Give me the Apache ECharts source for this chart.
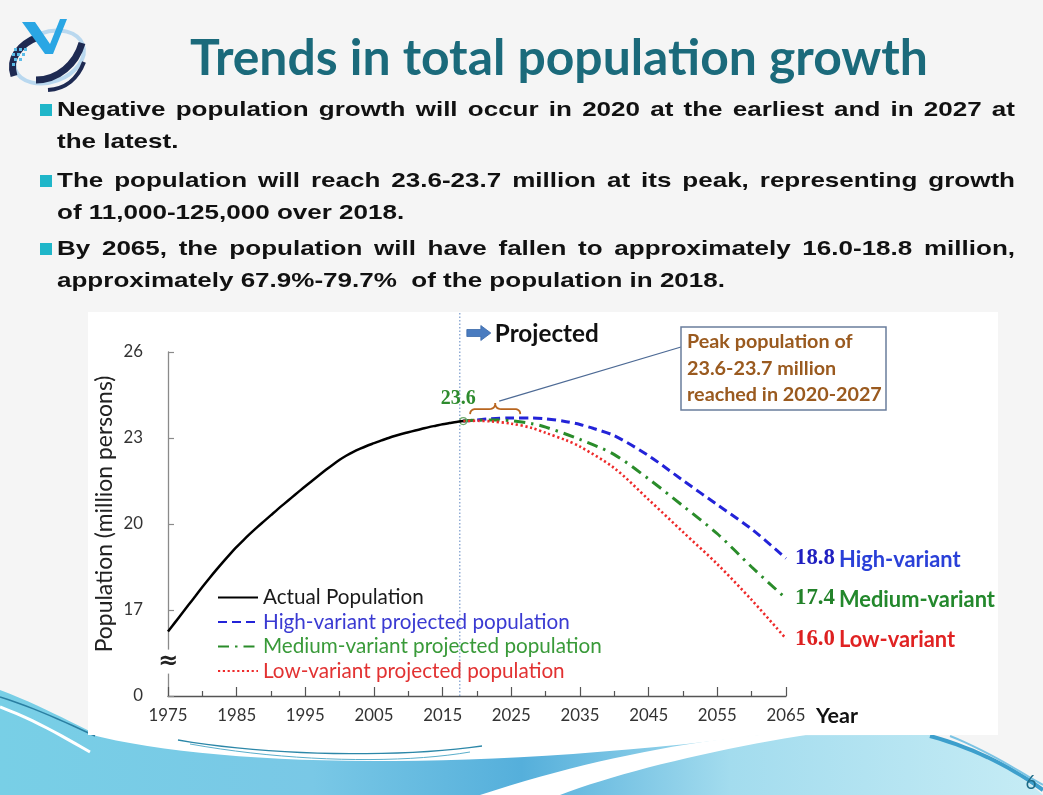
<!DOCTYPE html>
<html>
<head>
<meta charset="utf-8">
<title>Trends in total population growth</title>
<script src="https://cdn.jsdelivr.net/npm/echarts@6.0.0/dist/echarts.min.js"></script>
<style>
html,body{margin:0;padding:0;background:#f5f5f5;}
#chart{width:1043px;height:795px;}
</style>
</head>
<body>
<div id="chart"></div>
<script>
// ================= DATA =================
const actualYears = [1975,1976,1977,1978,1979,1980,1981,1982,1983,1984,1985,1986,1987,1988,1989,1990,1991,1992,1993,1994,1995,1996,1997,1998,1999,2000,2001,2002,2003,2004,2005,2006,2007,2008,2009,2010,2011,2012,2013,2014,2015,2016,2017,2018];
const actualValues = [16.25,16.56,16.87,17.18,17.49,17.8,18.1,18.39,18.67,18.94,19.2,19.44,19.67,19.89,20.1,20.31,20.52,20.72,20.92,21.12,21.32,21.51,21.7,21.89,22.07,22.24,22.39,22.52,22.63,22.73,22.82,22.91,22.99,23.07,23.14,23.2,23.26,23.32,23.38,23.43,23.48,23.52,23.56,23.59];

const highYears  = [2018,2020,2022,2025,2028,2030,2033,2035,2037,2040,2045,2050,2055,2060,2065];
const highValues = [23.59,23.63,23.67,23.70,23.70,23.67,23.57,23.47,23.33,23.08,22.38,21.52,20.67,19.82,18.8];

const mediumYears  = [2018,2020,2023,2025,2028,2030,2035,2040,2045,2050,2055,2060,2065];
const mediumValues = [23.59,23.62,23.63,23.60,23.50,23.38,22.95,22.42,21.57,20.63,19.66,18.5,17.4];

const lowYears  = [2018,2020,2022,2025,2028,2030,2033,2035,2040,2045,2050,2055,2060,2065];
const lowValues = [23.59,23.60,23.58,23.50,23.35,23.18,22.92,22.70,21.95,20.85,19.72,18.6,17.35,16.0];

const seriesNames = ['Actual Population','High-variant projected population','Medium-variant projected population','Low-variant projected population'];
const endLabelNames = ['High-variant','Medium-variant','Low-variant'];

const yTickValues = [14,17,20,23,26];          // 14 sits at the axis break and is labelled "0"
const yTickLabels = ['0','17','20','23','26'];
const yAxisName = 'Population (million persons)';
const xAxisName = 'Year';

const titleText = 'Trends in total population growth';
const bulletParas = [
  ['Negative population growth will occur in 2020 at the earliest and in 2027 at','the latest.'],
  ['The population will reach 23.6-23.7 million at its peak, representing growth','of 11,000-125,000 over 2018.'],
  ['By 2065, the population will have fallen to approximately 16.0-18.8 million,','approximately 67.9%-79.7%  of the population in 2018.']
];
const calloutLines = ['Peak population of','23.6-23.7 million','reached in 2020-2027'];
const projectedText = 'Projected';
const peakBraceYears = [2019, 2026.3];
const projectionStartYear = 2017.5;
const breakValue = 15.2;
const pageNumber = '6';

// ================= HELPERS =================
const mctx = document.createElement('canvas').getContext('2d');
function tw(text, font){ mctx.font = font; return mctx.measureText(text).width; }
function fit(text, weight, family, width){ return 100 * width / tw(text, weight + ' 100px "' + family + '"'); }
function pairs(xs, ys){ return xs.map((x, i) => [x, ys[i]]); }
function cubic(p0, p1, p2, p3, n){
  const pts = [];
  for (let i = 0; i <= n; i++) {
    const t = i / n, m = 1 - t;
    pts.push([m*m*m*p0[0] + 3*m*m*t*p1[0] + 3*m*t*t*p2[0] + t*t*t*p3[0],
              m*m*m*p0[1] + 3*m*m*t*p1[1] + 3*m*t*t*p2[1] + t*t*t*p3[1]]);
  }
  return pts;
}
function quad(p0, c, p1, n){
  const pts = [];
  for (let i = 0; i <= n; i++) {
    const t = i / n, m = 1 - t;
    pts.push([m*m*p0[0] + 2*m*t*c[0] + t*t*p1[0], m*m*p0[1] + 2*m*t*c[1] + t*t*p1[1]]);
  }
  return pts;
}
function txt(text, x, y, o){
  return {
    type: 'text', x: x, y: y, z: o.z || 30, silent: true, scaleX: o.sx || 1, rotation: o.rot || 0,
    style: {
      text: text, x: 0, y: 0, fill: o.color || '#000',
      fontSize: o.size, fontFamily: o.family || 'Lato', fontWeight: o.weight || 'normal',
      align: o.align || 'left', textAlign: o.align || 'left',
      verticalAlign: o.va || 'middle', textVerticalAlign: o.va || 'middle',
      backgroundColor: o.bg, padding: o.pad
    }
  };
}

// ================= STYLE / FONT SIZES =================
const tickFont = fit('2065', 'normal', 'Lato', 39);
const yNameFont = fit(yAxisName, 'normal', 'Lato', 277);
const legendFont = fit(seriesNames[2], 'normal', 'Lato', 339);
const endNameFont = fit(endLabelNames[1], 'bold', 'Lato', 156);
const endValFont = fit('18.8', 'bold', 'Liberation Serif', 40);

const lineColors = ['#000000', '#2323d8', '#2a8c2a', '#ee2a2a'];
const legendTextColors = ['#1a1a1a', '#3a3ad2', '#399a39', '#e23232'];
const endValColors = ['#2020c0', '#23822a', '#dd2020'];
const endNameColors = ['#2a40d8', '#23882c', '#e02222'];
const lineTypes = ['solid', [9, 5], [11, 6, 2.5, 6], [2.2, 2.6]];
const lineWidths = [2.5, 3, 3, 2.6];

function projSeries(k, years, values){
  const i = k + 1;
  return {
    name: seriesNames[i], type: 'line', data: pairs(years, values),
    symbol: 'none', smooth: 0.3, z: 3 + k,
    lineStyle: { color: lineColors[i], width: lineWidths[i], type: lineTypes[i] },
    itemStyle: { color: lineColors[i] },
    endLabel: {
      show: true, distance: 9,
      formatter: p => '{v|' + p.value[1].toFixed(1) + '}{n|' + endLabelNames[k] + '}',
      rich: {
        v: { fontFamily: 'Liberation Serif', fontWeight: 'bold', fontSize: endValFont, color: endValColors[k] },
        n: { fontFamily: 'Lato', fontWeight: 'bold', fontSize: endNameFont, color: endNameColors[k], padding: [3, 0, 0, 4] }
      }
    }
  };
}

const option = {
  animation: false,
  backgroundColor: '#f5f5f5',
  grid: { left: 168, right: 257, top: 352, bottom: 99, containLabel: false, outerBoundsMode: 'none' },
  xAxis: {
    type: 'value', min: 1975, max: 2065, interval: 10,
    axisLine: { show: true, lineStyle: { color: '#555', width: 1.3 } },
    axisTick: { show: true, inside: true, length: 9, lineStyle: { color: '#555', width: 1.2 } },
    minorTick: { show: true, splitNumber: 2, length: 5, lineStyle: { color: '#555', width: 1.2 } },
    axisLabel: { show: true, margin: 11, fontFamily: 'Lato', fontSize: tickFont, color: '#333', formatter: v => String(v) },
    splitLine: { show: false }, minorSplitLine: { show: false }
  },
  yAxis: {
    type: 'value', min: 14, max: 26, interval: 3,
    axisLine: { show: true, lineStyle: { color: '#8a8a8a', width: 1.3 } },
    axisTick: { show: true, inside: true, length: 6, lineStyle: { color: '#8a8a8a', width: 1.2 } },
    axisLabel: { margin: 25, fontFamily: 'Lato', fontSize: tickFont, color: '#333',
      formatter: v => { const i = yTickValues.indexOf(v); return i >= 0 ? yTickLabels[i] : ''; } },
    splitLine: { show: false }
  },
  legend: {
    show: true, orient: 'vertical', left: 212, top: 582,
    itemWidth: 40, itemHeight: 12, itemGap: 3.5, selectedMode: false,
    itemStyle: { color: 'rgba(0,0,0,0)', borderWidth: 0, opacity: 0 },
    textStyle: { fontFamily: 'Lato', fontSize: legendFont, lineHeight: 17 },
    data: seriesNames.map((n, i) => ({ name: n, textStyle: { color: legendTextColors[i] } }))
  },
  series: [
    {
      name: seriesNames[0], type: 'line', data: pairs(actualYears, actualValues),
      symbol: 'none', smooth: 0.3, z: 6,
      lineStyle: { color: lineColors[0], width: lineWidths[0] },
      itemStyle: { color: lineColors[0] },
      markPoint: {
        symbol: 'circle', symbolSize: 7, silent: true,
        itemStyle: { color: 'rgba(255,255,255,0)', borderColor: '#6aa86a', borderWidth: 1.2 },
        label: { show: true, position: 'top', distance: 8, offset: [-5, 0],
          formatter: p => p.value.toFixed(1),
          fontFamily: 'Liberation Serif', fontWeight: 'bold', fontSize: 20, color: '#2e8b2e' },
        data: [{ coord: [actualYears[actualYears.length - 1], actualValues[actualValues.length - 1]], value: actualValues[actualValues.length - 1] }]
      }
    },
    projSeries(0, highYears, highValues),
    projSeries(1, mediumYears, mediumValues),
    projSeries(2, lowYears, lowValues)
  ]
};

const chart = echarts.init(document.getElementById('chart'), null, { renderer: 'canvas', width: 1043, height: 795 });
chart.setOption(option);

// ================= DECORATION / ANNOTATIONS =================
const px = (x, y) => chart.convertToPixel({ gridIndex: 0 }, [x, y]);
const [axX, axY] = px(1975, 14);
const [endX] = px(2065, 14);
const [projX] = px(projectionStartYear, 26);
const [, midY] = px(1975, 20.35);
const g = [];

// bottom waves
const wave = [[0, 690]].concat(
  cubic([0, 690], [40, 705], [70, 722], [100, 736], 12),
  [[930, 735]],
  cubic([930, 735], [975, 748], [1015, 770], [1043, 795], 12),
  [[0, 795]]
);
g.push({ type: 'polygon', z: -5, silent: true, shape: { points: wave },
  style: { fill: new echarts.graphic.LinearGradient(0, 0, 1, 0, [
    { offset: 0, color: '#78cfe6' }, { offset: 0.3, color: '#79c8e6' }, { offset: 0.5, color: '#55afdb' },
    { offset: 0.7, color: '#a3dcee' }, { offset: 1, color: '#c6ecf5' }]) } });
g.push({ type: 'polygon', z: -4, silent: true,
  shape: { points: [[88, 734]].concat(cubic([88, 734], [220, 768], [480, 772], [770, 734], 30)) }, style: { fill: '#ffffff' } });
g.push({ type: 'polygon', z: -4, silent: true,
  shape: { points: cubic([480, 795], [580, 762], [680, 742], [770, 734], 20).concat(cubic([812, 734], [720, 748], [620, 772], [560, 795], 20)) },
  style: { fill: '#ffffff' } });
g.push({ type: 'polyline', z: -3, silent: true, shape: { points: cubic([178, 740], [270, 756], [400, 758], [482, 746], 20) },
  style: { stroke: '#2c87a8', lineWidth: 1.3, fill: null } });
g.push({ type: 'polyline', z: -3, silent: true, shape: { points: cubic([190, 744], [290, 762], [400, 764], [470, 752], 20) },
  style: { stroke: '#5aaecb', lineWidth: 1, fill: null } });
g.push({ type: 'polyline', z: -3, silent: true, shape: { points: cubic([0, 697], [35, 708], [65, 722], [95, 736], 12) },
  style: { stroke: '#2a7fa2', lineWidth: 1.5, fill: null } });
g.push({ type: 'polyline', z: -3, silent: true, shape: { points: cubic([0, 707], [35, 720], [60, 735], [90, 752], 12) },
  style: { stroke: '#ffffff', lineWidth: 3, fill: null } });
g.push({ type: 'polyline', z: -3, silent: true, shape: { points: cubic([930, 736], [980, 750], [1015, 770], [1043, 790], 16) },
  style: { stroke: '#3d9fcc', lineWidth: 4, fill: null } });
g.push({ type: 'polyline', z: -3, silent: true, shape: { points: cubic([950, 736], [990, 752], [1020, 772], [1043, 785], 16) },
  style: { stroke: '#7cc4e4', lineWidth: 2, fill: null } });

// chart picture box
g.push({ type: 'rect', z: -2, silent: true, shape: { x: 88, y: 312, width: 910, height: 423 }, style: { fill: '#ffffff' } });

// y axis title (sits a little above the axis middle, as in the original)
g.push(txt(yAxisName, 105, midY, { size: yNameFont, color: '#222', align: 'center', rot: Math.PI / 2 }));

// projection divider
g.push({ type: 'line', z: 1, silent: true, shape: { x1: projX, y1: 313, x2: projX, y2: axY },
  style: { stroke: '#5b83c0', lineWidth: 1, lineDash: [1.5, 2] } });
const ax0 = projX + 7, ay0 = 333;
g.push({ type: 'polygon', z: 30, silent: true,
  shape: { points: [[ax0, ay0 - 3.5], [ax0 + 14, ay0 - 3.5], [ax0 + 14, ay0 - 7.5], [ax0 + 24, ay0], [ax0 + 14, ay0 + 7.5], [ax0 + 14, ay0 + 3.5], [ax0, ay0 + 3.5]] },
  style: { fill: '#4a7cc0', stroke: '#3a68a8', lineWidth: 0.8 } });
g.push(txt(projectedText, projX + 35, 334, { size: fit(projectedText, 'bold', 'Lato', 104), weight: 'bold', color: '#111' }));

// axis break & axis name
const [, breakY] = px(1975, breakValue);
g.push(txt('\u2248', axX, breakY, { size: 24, weight: 'bold', align: 'center', color: '#222', family: 'DejaVu Sans', bg: '#ffffff', pad: [0, 0, 0, 0] }));
g.push(txt(xAxisName, endX + 30, axY + 20, { size: fit(xAxisName, 'bold', 'Lato', 42), weight: 'bold', color: '#111' }));

// peak brace
const [b1x, by] = px(peakBraceYears[0], actualValues[actualValues.length - 1]);
const [b2x] = px(peakBraceYears[1], 0);
const bm = (b1x + b2x) / 2, yb = by - 7, yl = by - 12, yt = by - 18;
const bracePts = [].concat(
  quad([b1x, yb], [b1x, yl], [b1x + 6, yl], 6),
  quad([bm - 6, yl], [bm, yl], [bm, yt], 6),
  quad([bm, yt], [bm, yl], [bm + 6, yl], 6),
  quad([b2x - 6, yl], [b2x, yl], [b2x, yb], 6)
);
g.push({ type: 'polyline', z: 8, silent: true, shape: { points: bracePts }, style: { stroke: '#b8651f', lineWidth: 1.8, fill: null } });

// callout
g.push({ type: 'line', z: 8, silent: true, shape: { x1: bm + 4, y1: yt - 2, x2: 681, y2: 347 }, style: { stroke: '#4d6a95', lineWidth: 1.3 } });
g.push({ type: 'rect', z: 9, silent: true, shape: { x: 681, y: 327, width: 205, height: 83 }, style: { fill: '#ffffff', stroke: '#6a7d9c', lineWidth: 1.5 } });
const calloutFont = fit(calloutLines[2], 'bold', 'Lato', 195);
calloutLines.forEach((l, i) => g.push(txt(l, 687, 342 + i * 26.5, { size: calloutFont, weight: 'bold', color: '#9a5a1f' })));

// page number
g.push(txt(pageNumber, 1031, 783, { size: 19, color: '#1d6a86', align: 'center' }));

// title
g.push(txt(titleText, 559, 59, { size: fit(titleText, 'bold', 'Lato', 738), weight: 'bold', color: '#1b6a7b', align: 'center' }));

// bullets (justified text)
const bFont = 'bold 21px "Liberation Sans"';
const lastLine = bulletParas[2][1];
const S = 668 / tw(lastLine, bFont);
const bulletY = [[110, 142], [181, 213], [249, 281]];
const textL = 57, textR = 1015;
bulletParas.forEach((para, pi) => {
  g.push({ type: 'rect', z: 30, silent: true, shape: { x: 40, y: bulletY[pi][0] - 6, width: 12, height: 12 }, style: { fill: '#1fb6c9' } });
  para.forEach((line, li) => {
    const y = bulletY[pi][li];
    const o = { size: 21, weight: 'bold', family: 'Liberation Sans', color: '#111', sx: S };
    if (li < para.length - 1) {
      const words = line.split(' ');
      const ws = words.map(w => tw(w, bFont) * S);
      const gap = (textR - textL - ws.reduce((a, b) => a + b, 0)) / (words.length - 1);
      let x = textL;
      words.forEach((w, wi) => { g.push(txt(w, x, y, o)); x += ws[wi] + gap; });
    } else {
      g.push(txt(line, textL, y, o));
    }
  });
});

// logo
g.push({ type: 'ellipse', z: 30, silent: true, shape: { cx: 49, cy: 57, rx: 36, ry: 25 }, rotation: 0.35, originX: 49, originY: 57,
  style: { fill: null, stroke: '#b9d8ef', lineWidth: 4 } });
g.push({ type: 'bezierCurve', z: 31, silent: true, shape: { x1: 14, y1: 76, cpx1: 8, cpy1: 58, cpx2: 20, cpy2: 44, x2: 38, y2: 37 },
  style: { stroke: '#1e2a52', lineWidth: 7, fill: null } });
g.push({ type: 'bezierCurve', z: 31, silent: true, shape: { x1: 36, y1: 80, cpx1: 58, cpy1: 80, cpx2: 76, cpy2: 64, x2: 82, y2: 43 },
  style: { stroke: '#1e2a52', lineWidth: 7, fill: null } });
g.push({ type: 'bezierCurve', z: 31, silent: true, shape: { x1: 48, y1: 90, cpx1: 66, cpy1: 89, cpx2: 78, cpy2: 78, x2: 84, y2: 62 },
  style: { stroke: '#1e2a52', lineWidth: 4, fill: null } });
g.push({ type: 'polygon', z: 32, silent: true, shape: { points: [[22, 22], [35, 22], [50, 44], [60, 19], [67, 19], [53, 54], [45, 54]] },
  style: { fill: '#2aa6e4' } });
[[14, 48], [19, 48], [24, 48], [12, 53], [17, 53], [22, 53], [14, 58], [19, 58], [12, 63]].forEach(p =>
  g.push({ type: 'rect', z: 32, silent: true, shape: { x: p[0], y: p[1], width: 3, height: 3 }, style: { fill: '#5cbce8' } }));

chart.setOption({ graphic: { elements: g } });
</script>
</body>
</html>
